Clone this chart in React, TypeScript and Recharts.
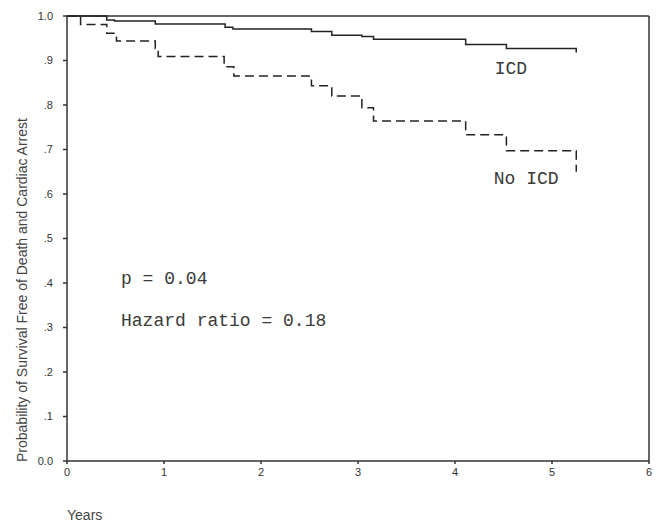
import { LineChart, Line, XAxis, YAxis, ReferenceLine, ReferenceDot } from 'recharts';

// Kaplan-Meier step points (years, survival)
const icdTimes = [0, 0.41, 0.49, 0.91, 1.63, 1.71, 2.52, 2.73, 3.04, 3.16, 4.11, 4.53, 5.25];
const icdSurvival = [1, 0.991, 0.989, 0.982, 0.975, 0.971, 0.965, 0.957, 0.954, 0.948, 0.936, 0.927, 0.918];

const noIcdTimes = [0, 0.14, 0.41, 0.51, 0.91, 0.94, 1.62, 1.72, 2.52, 2.73, 3.04, 3.16, 4.11, 4.53, 5.25];
const noIcdSurvival = [1, 0.981, 0.961, 0.944, 0.927, 0.909, 0.886, 0.865, 0.843, 0.82, 0.794, 0.764, 0.733, 0.697, 0.65];

const xTicks = [0, 1, 2, 3, 4, 5, 6];
const yTicks = [0, 0.1, 0.2, 0.3, 0.4, 0.5, 0.6, 0.7, 0.8, 0.9, 1.0];

const icdData = icdTimes.map((t, i) => ({ t, s: icdSurvival[i] }));
const noIcdData = noIcdTimes.map((t, i) => ({ t, s: noIcdSurvival[i] }));

const axisColor = '#333';
const lineColor = '#222';
const sansFont = '"Liberation Sans", Arial, sans-serif';
const monoFont = '"Liberation Mono", "Courier New", monospace';

const formatY = (v: number) => {
  if (v === 0) return '0.0';
  if (v === 1) return '1.0';
  return v.toFixed(1).replace(/^0/, '');
};

const monoLabel = (value: string) => ({
  value,
  position: 'right' as const,
  offset: 0,
  fill: '#3a3a3a',
  fontFamily: monoFont,
  fontSize: 18,
});

export default function App() {
  return (
    <div style={{ position: 'absolute', left: 0, top: 0, width: 659, height: 523, background: '#fff' }}>
      <LineChart width={659} height={523} margin={{ top: 16, right: 10, left: 0, bottom: 32 }}>
        <XAxis
          type="number"
          dataKey="t"
          domain={[0, 6]}
          ticks={xTicks}
          allowDuplicatedCategory={false}
          stroke={axisColor}
          strokeWidth={1.5}
          tickSize={3}
          tickMargin={4}
          height={30}
          tick={{ fill: '#333', fontSize: 11, fontFamily: sansFont }}
          label={{
            content: () => (
              <text x={67} y={520} fill="#444" fontSize={14} fontFamily={sansFont}>
                Years
              </text>
            ),
          }}
        />
        <YAxis
          type="number"
          dataKey="s"
          domain={[0, 1]}
          ticks={yTicks}
          tickFormatter={formatY}
          width={67}
          stroke={axisColor}
          strokeWidth={1.5}
          tickSize={4}
          tickMargin={10}
          tick={{ fill: '#333', fontSize: 11, fontFamily: sansFont }}
          label={{
            content: () => (
              <text
                x={27}
                y={462}
                transform="rotate(-90 27 462)"
                fill="#444"
                fontSize={14}
                fontFamily={sansFont}
              >
                Probability of Survival Free of Death and Cardiac Arrest
              </text>
            ),
          }}
        />
        <ReferenceLine y={1} stroke={axisColor} strokeWidth={1.5} />
        <ReferenceLine x={6} stroke={axisColor} strokeWidth={1.5} />
        <Line
          data={icdData}
          dataKey="s"
          type="stepAfter"
          stroke={lineColor}
          strokeWidth={1.5}
          dot={false}
          isAnimationActive={false}
        />
        <Line
          data={noIcdData}
          dataKey="s"
          type="stepAfter"
          stroke={lineColor}
          strokeWidth={1.5}
          strokeDasharray="9 5"
          dot={false}
          isAnimationActive={false}
        />
        <ReferenceDot x={4.41} y={0.885} r={0} fill="none" stroke="none" label={monoLabel('ICD')} />
        <ReferenceDot x={4.4} y={0.636} r={0} fill="none" stroke="none" label={monoLabel('No ICD')} />
        <ReferenceDot x={0.557} y={0.413} r={0} fill="none" stroke="none" label={monoLabel('p = 0.04')} />
        <ReferenceDot x={0.557} y={0.317} r={0} fill="none" stroke="none" label={monoLabel('Hazard ratio = 0.18')} />
      </LineChart>
    </div>
  );
}
